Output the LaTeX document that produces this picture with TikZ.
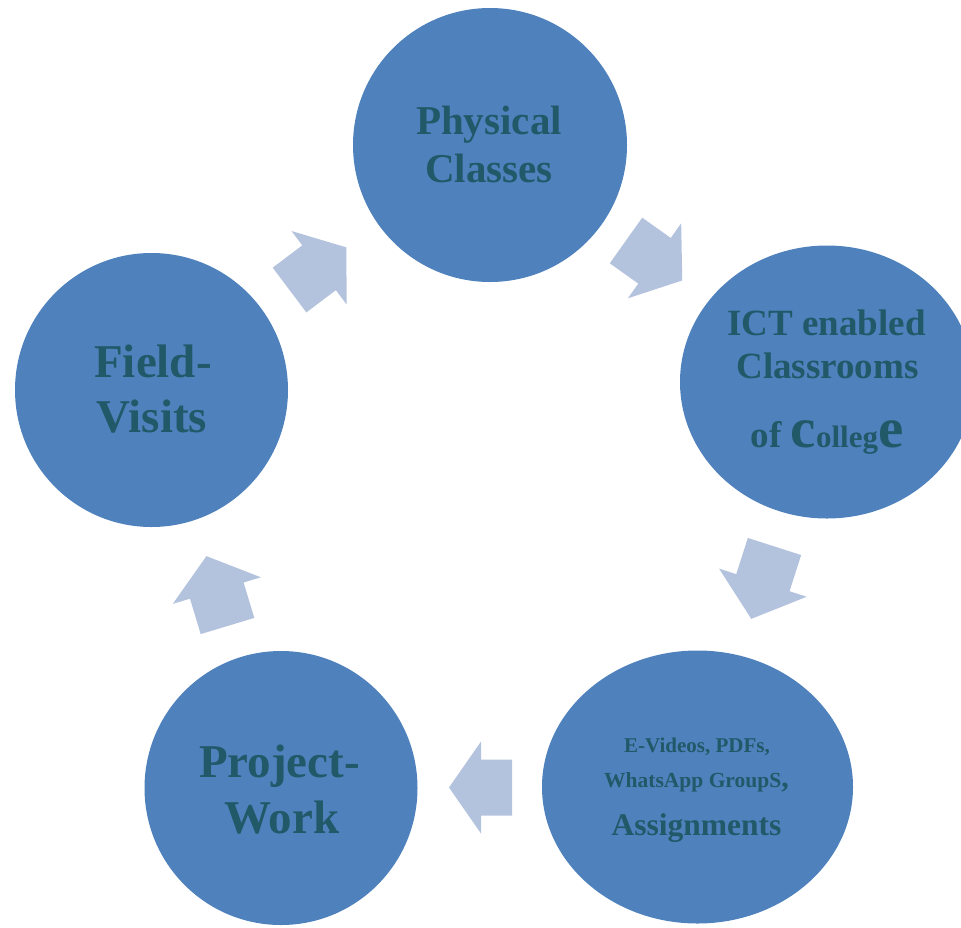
\documentclass[tikz,border=0pt]{standalone}
\usepackage{fontspec}
\setmainfont{Liberation Serif}
\usetikzlibrary{shapes.geometric}
\definecolor{circblue}{HTML}{4F81BD}
\definecolor{arrblue}{HTML}{B3C3DE}
\definecolor{txtteal}{HTML}{215968}
\newcommand{\fsz}[1]{\fontsize{#1}{#1}\selectfont}
\tikzset{
  bubble/.style={ellipse, fill=circblue, draw=none, inner sep=0pt},
  lbl/.style={anchor=base, text=txtteal, inner sep=0pt, font=\bfseries\fontsize{#1}{#1}\selectfont},
  blockarrow/.style={fill=arrblue, draw=none},
}
\begin{document}
\begin{tikzpicture}[x=1pt,y=-1pt]
\useasboundingbox (0,0) rectangle (961,927);
\clip (0,0) rectangle (961,927);
% circles
\node[bubble, minimum width=274pt, minimum height=274pt] (phys) at (490,145) {};
\node[bubble, minimum width=294pt, minimum height=273pt] (ict) at (827,382) {};
\node[bubble, minimum width=311pt, minimum height=273pt] (evid) at (697.5,787) {};
\node[bubble, minimum width=273pt, minimum height=274pt] (proj) at (281,788) {};
\node[bubble, minimum width=273pt, minimum height=274pt] (field) at (151.5,390) {};
% labels
\node[lbl=41] (physA) at (489,134) {Physical};
\node[lbl=41] (physB) at (489,182) {Classes};
\node[lbl=37] (ictA) at (826.5,335) {ICT enabled};
\node[lbl=37] (ictB) at (827.5,378) {Classrooms};
\node[lbl=37] (ictC) at (827,447) {of {\fsz{57}c}{\fsz{31}olleg}{\fsz{57}e}};
\node[lbl=21] (evidA) at (697,752) {E-Videos, PDFs,};
\node[lbl=21.5] (evidB) at (696.5,787) {WhatsApp GroupS{\fsz{30},}};
\node[lbl=31.5] (evidC) at (696.5,835) {Assignments};
\node[lbl=47] (projA) at (279.5,777) {Project-};
\node[lbl=47] (projB) at (282,833) {Work};
\node[lbl=47] (fieldA) at (153,377) {Field-};
\node[lbl=47] (fieldB) at (152,432) {Visits};
% block arrows: back midpoint x/y, angle, shaft length, head length
\foreach \px/\py/\ang/\sl/\hl in {626/240.5/-35.4/35/34, 774.5/546.5/-107.8/38/38, 512/787.5/-180/31/32, 227.5/626/106.8/37/36, 289.5/290/36.9/37/34}{
  \begin{scope}[shift={(\px,\py)}, rotate=\ang]
    \fill[blockarrow] (0,-28) -- (\sl,-28) -- (\sl,-46) -- (\sl+\hl,0) -- (\sl,46) -- (\sl,28) -- (0,28) -- cycle;
  \end{scope}
}
\end{tikzpicture}
\end{document}
